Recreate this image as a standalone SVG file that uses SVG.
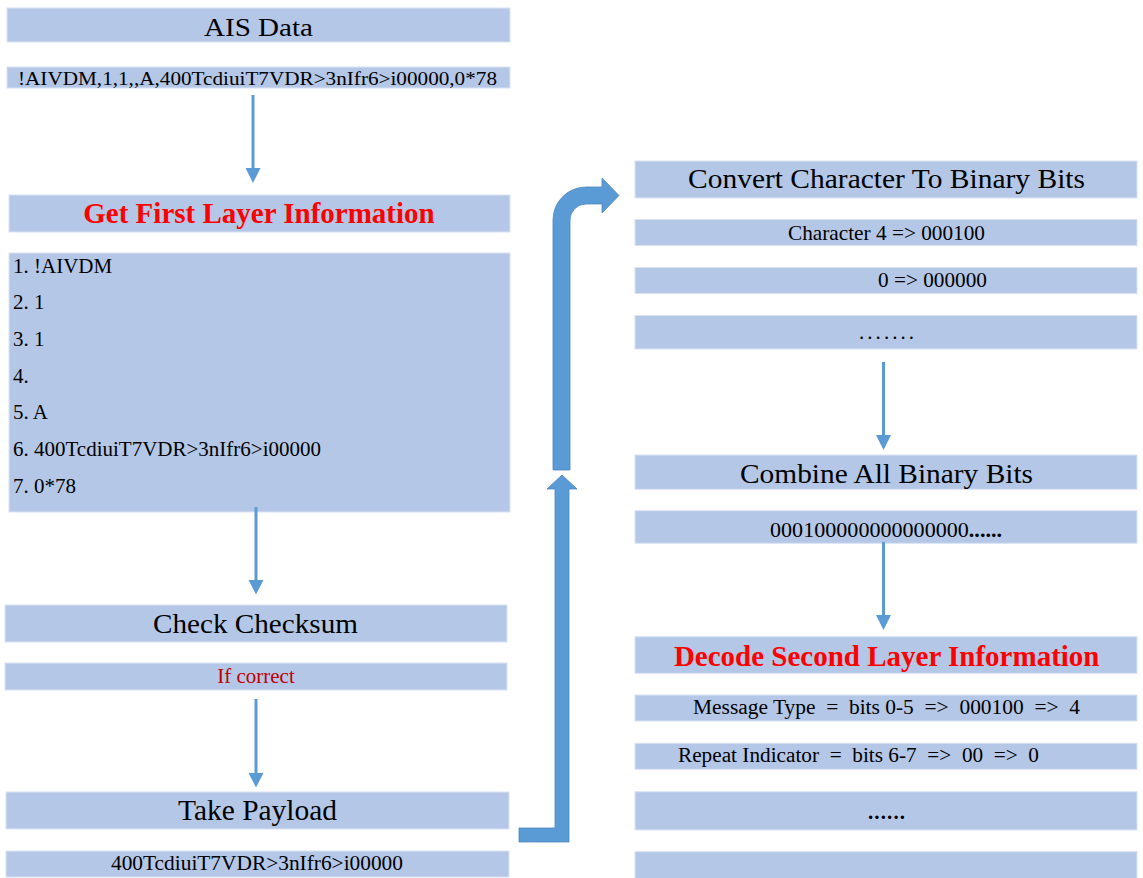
<svg xmlns="http://www.w3.org/2000/svg" width="1143" height="878" viewBox="0 0 1143 878">
<style>
.box{fill:#B4C7E7;stroke:#D9E3F3;stroke-width:1}
.t{font-family:"Liberation Serif","Times New Roman",serif;fill:#000}
.c{text-anchor:middle}
.red{fill:#FF0000;font-weight:bold}
.dred{fill:#C00000}
.shaft{stroke:#5B9BD5;stroke-width:3;fill:none}
.head{fill:#5B9BD5}
.big{fill:#5B9BD5;stroke:#4A86C0;stroke-width:0.8}
</style>
<rect width="1143" height="878" fill="#fff"/>
<g id="ais-data"><rect class="box" x="7" y="8" width="503" height="34"/><text class="t c" x="258.5" y="36" font-size="26" textLength="109" lengthAdjust="spacingAndGlyphs">AIS Data</text></g>
<g id="ais-string"><rect class="box" x="7" y="67" width="503" height="21"/><text class="t c" x="257.5" y="85" font-size="19" textLength="479" lengthAdjust="spacingAndGlyphs">!AIVDM,1,1,,A,400TcdiuiT7VDR&gt;3nIfr6&gt;i00000,0*78</text></g>
<g id="first-layer"><rect class="box" x="9" y="195" width="501" height="37"/><text class="t c red" x="259" y="223" font-size="29">Get First Layer Information</text></g>
<g id="fields"><rect class="box" x="9" y="253" width="501" height="259"/>
<text class="t" x="13" y="272.7" font-size="21">1. !AIVDM</text>
<text class="t" x="13" y="309.3" font-size="21">2. 1</text>
<text class="t" x="13" y="346" font-size="21">3. 1</text>
<text class="t" x="13" y="382.7" font-size="21">4.</text>
<text class="t" x="13" y="419.3" font-size="21">5. A</text>
<text class="t" x="13" y="456" font-size="21">6. 400TcdiuiT7VDR&gt;3nIfr6&gt;i00000</text>
<text class="t" x="13" y="492.7" font-size="21">7. 0*78</text></g>
<g id="checksum"><rect class="box" x="5" y="605" width="502" height="37"/><text class="t c" x="255.5" y="633.3" font-size="28" textLength="205" lengthAdjust="spacingAndGlyphs">Check Checksum</text></g>
<g id="if-correct"><rect class="box" x="5" y="663" width="502" height="27"/><text class="t c dred" x="256" y="683.3" font-size="21">If correct</text></g>
<g id="take-payload"><rect class="box" x="6" y="792" width="503" height="37"/><text class="t c" x="257.5" y="820" font-size="29" textLength="159" lengthAdjust="spacingAndGlyphs">Take Payload</text></g>
<g id="payload"><rect class="box" x="6" y="851" width="503" height="26"/><text class="t c" x="257" y="870" font-size="21" textLength="292" lengthAdjust="spacingAndGlyphs">400TcdiuiT7VDR&gt;3nIfr6&gt;i00000</text></g>
<g id="convert"><rect class="box" x="635" y="161" width="502" height="37"/><text class="t c" x="886.5" y="188.3" font-size="28" textLength="397" lengthAdjust="spacingAndGlyphs">Convert Character To Binary Bits</text></g>
<g id="char4"><rect class="box" x="635" y="219.5" width="502" height="26"/><text class="t c" x="886.5" y="240" font-size="21" textLength="197" lengthAdjust="spacingAndGlyphs">Character 4 =&gt; 000100</text></g>
<g id="char0"><rect class="box" x="635" y="267.5" width="502" height="26"/><text class="t" x="878" y="287.3" font-size="21" textLength="109" lengthAdjust="spacingAndGlyphs">0 =&gt; 000000</text></g>
<g id="char-more"><rect class="box" x="635" y="315.5" width="502" height="33.5"/><text class="t" x="859" y="339" font-size="21" textLength="55" lengthAdjust="spacing">.......</text></g>
<g id="combine"><rect class="box" x="635" y="455" width="502" height="34.3"/><text class="t c" x="886.5" y="482.7" font-size="28" textLength="293" lengthAdjust="spacingAndGlyphs">Combine All Binary Bits</text></g>
<g id="bits"><rect class="box" x="635" y="510.7" width="502" height="32.6"/><text class="t c" x="886" y="536.7" font-size="21" textLength="232" lengthAdjust="spacingAndGlyphs">000100000000000000<tspan font-weight="bold">......</tspan></text></g>
<g id="second-layer"><rect class="box" x="635" y="636.7" width="502" height="36.6"/><text class="t c red" x="886.7" y="666" font-size="29">Decode Second Layer Information</text></g>
<g id="msg-type"><rect class="box" x="635" y="695" width="502" height="26"/><text class="t" x="693" y="714" font-size="20" xml:space="preserve" textLength="387" lengthAdjust="spacingAndGlyphs">Message Type  =  bits 0-5  =&gt;  000100  =&gt;  4</text></g>
<g id="repeat"><rect class="box" x="635" y="743.3" width="502" height="26"/><text class="t" x="678" y="762.3" font-size="20" xml:space="preserve" textLength="361" lengthAdjust="spacingAndGlyphs">Repeat Indicator  =  bits 6-7  =&gt;  00  =&gt;  0</text></g>
<g id="decode-more"><rect class="box" x="635" y="791.7" width="502" height="38.3"/><text class="t" x="868" y="819" font-size="21" font-weight="bold" textLength="37" lengthAdjust="spacing">......</text></g>
<g id="decode-last"><rect class="box" x="635" y="851.7" width="502" height="30"/></g>
<g id="connectors">
<line class="shaft" x1="253" y1="95" x2="253" y2="169"/><polygon class="head" points="245.5,168 260.5,168 253,183"/>
<line class="shaft" x1="256" y1="507" x2="256" y2="581"/><polygon class="head" points="248.5,580 263.5,580 256,594.5"/>
<line class="shaft" x1="256" y1="699" x2="256" y2="774"/><polygon class="head" points="248.5,773 263.5,773 256,787.5"/>
<line class="shaft" x1="883.5" y1="362" x2="883.5" y2="436"/><polygon class="head" points="876,435 891,435 883.5,450"/>
<line class="shaft" x1="883.5" y1="542" x2="883.5" y2="616"/><polygon class="head" points="876,615 891,615 883.5,630"/>
<path class="big" d="M519,828 L555,828 L555,489 L547,489 L562,475 L577,489 L569,489 L569,842 L519,842 Z"/>
<path class="big" d="M553,470 L553,220 A33,33 0 0 1 586,187 L602,187 L602,178 L619,195.5 L602,213 L602,204 L586,204 A16,16 0 0 0 570,220 L570,470 Z"/>
</g>
</svg>
